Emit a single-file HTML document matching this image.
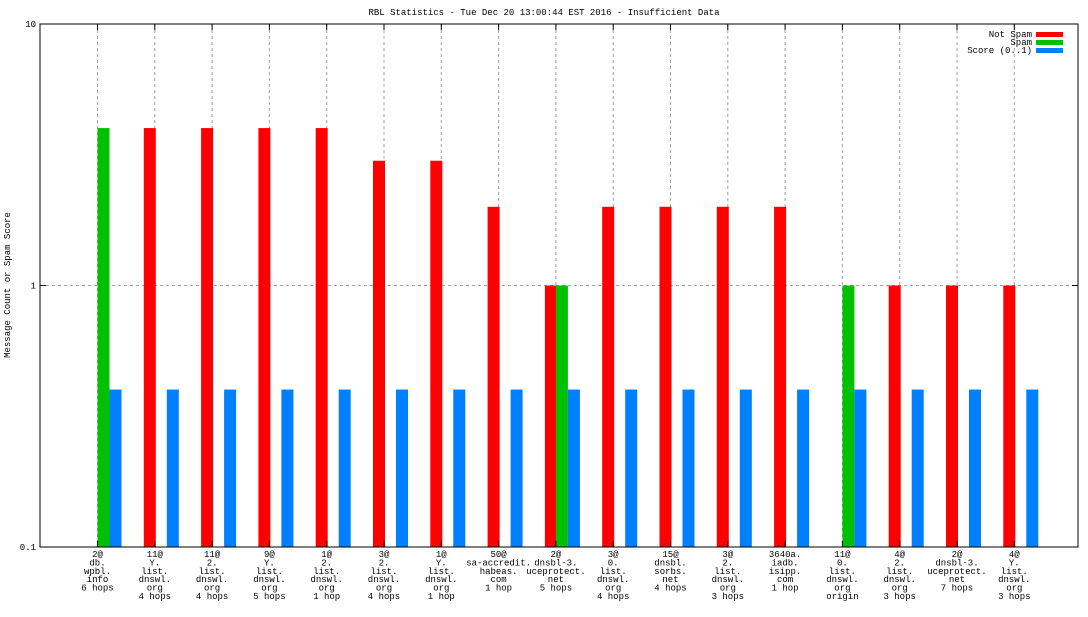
<!DOCTYPE html>
<html><head><meta charset="utf-8"><style>
body{margin:0;background:#fff;}
svg text{font-family:"Liberation Mono","DejaVu Sans Mono",monospace;font-size:9px;fill:#000;}
</style></head><body>
<svg id="chart" width="1088" height="612" xmlns="http://www.w3.org/2000/svg">
<rect width="1088" height="612" fill="#fff"/>
<text x="544" y="15" text-anchor="middle">RBL Statistics - Tue Dec 20 13:00:44 EST 2016 - Insufficient Data</text>
<text transform="translate(10,285) rotate(-90)" text-anchor="middle">Message Count or Spam Score</text>
<g id="grid"></g><g id="bars"></g><g id="axes"></g>
<g>
<text x="1032" y="37" text-anchor="end">Not Spam</text>
<rect x="1036" y="32" width="27" height="5" fill="#ff0000"/>
<text x="1032" y="45" text-anchor="end">Spam</text>
<rect x="1036" y="40" width="27" height="5" fill="#00c000"/>
<text x="1032" y="53" text-anchor="end">Score (0..1)</text>
<rect x="1036" y="48" width="27" height="5" fill="#0080ff"/>
</g>
</svg>
<script>
const categories=[
["2@","db.","wpbl.","info","6 hops"],
["11@","Y.","list.","dnswl.","org","4 hops"],
["11@","2.","list.","dnswl.","org","4 hops"],
["9@","Y.","list.","dnswl.","org","5 hops"],
["1@","2.","list.","dnswl.","org","1 hop"],
["3@","2.","list.","dnswl.","org","4 hops"],
["1@","Y.","list.","dnswl.","org","1 hop"],
["50@","sa-accredit.","habeas.","com","1 hop"],
["2@","dnsbl-3.","uceprotect.","net","5 hops"],
["3@","0.","list.","dnswl.","org","4 hops"],
["15@","dnsbl.","sorbs.","net","4 hops"],
["3@","2.","list.","dnswl.","org","3 hops"],
["3640a.","iadb.","isipp.","com","1 hop"],
["11@","0.","list.","dnswl.","org","origin"],
["4@","2.","list.","dnswl.","org","3 hops"],
["2@","dnsbl-3.","uceprotect.","net","7 hops"],
["4@","Y.","list.","dnswl.","org","3 hops"]];
const notSpam=[0,4,4,4,4,3,3,2,1,2,2,2,2,0,1,1,1];
const spam=[4,0,0,0,0,0,0,0,1,0,0,0,0,1,0,0,0];
const score=[0.4,0.4,0.4,0.4,0.4,0.4,0.4,0.4,0.4,0.4,0.4,0.4,0.4,0.4,0.4,0.4,0.4];
const yTicks=[0.1,1,10];
const yTickLabels=["0.1","1","10"];

const NS="http://www.w3.org/2000/svg";
const L=40,R=1078,T=24,B=547;
const yMin=0.1,yMax=10;
function y(v){return B-(Math.log10(v)-Math.log10(yMin))/(Math.log10(yMax)-Math.log10(yMin))*(B-T);}
const step=57.3,x0=97.5;
function xc(i){return x0+i*step;}
function mk(tag,attrs,parent){const e=document.createElementNS(NS,tag);for(const k in attrs)e.setAttribute(k,attrs[k]);parent.appendChild(e);return e;}
const grid=document.getElementById('grid'),bars=document.getElementById('bars'),axes=document.getElementById('axes');
categories.forEach((c,i)=>{
  const g=mk('line',{x1:xc(i),x2:xc(i),y1:T,y2:B,stroke:'#a0a0a0','stroke-dasharray':'3,3'},grid);
  
  
});
yTicks.forEach((v,i)=>{
  if(v>yMin&&v<yMax){const g=mk('line',{x1:L,x2:R,y1:y(v),y2:y(v),stroke:'#a0a0a0','stroke-dasharray':'3,3'},grid);
  
  }
  const t=mk('text',{x:L-4,y:y(v)+3,'text-anchor':'end'},axes);t.textContent=yTickLabels[i];
  
  
  [[L,L+6],[R-6,R]].forEach(p=>{const k=mk('line',{x1:p[0],x2:p[1],y1:y(v),y2:y(v),stroke:'#000'},axes);
  
  });
});
function bar(v,x,w,col,name){
  if(!(v>yMin))return;
  const r=mk('rect',{x:x,y:y(v),width:w,height:B-y(v),fill:col},bars);
  
  
}
categories.forEach((c,i)=>{
  const cx=xc(i);
  bar(notSpam[i],cx-11,12,'#ff0000','bar-not-spam');
  bar(spam[i],cx,12,'#00c000','bar-spam');
  bar(score[i],cx+12,12,'#0080ff','bar-score');
  const t=mk('text',{'text-anchor':'middle'},axes);
  
  
  c.forEach((ln,j)=>{const s=mk('tspan',{x:cx,y:557+j*8.4},t);s.textContent=ln;});
  [[T,T+6],[B-6,B]].forEach(p=>{const k=mk('line',{x1:cx,x2:cx,y1:p[0],y2:p[1],stroke:'#000'},axes);
  
  });
});
const f=mk('rect',{x:L,y:T,width:R-L,height:B-T,fill:'none',stroke:'#000'},axes);


</script>
</body></html>
